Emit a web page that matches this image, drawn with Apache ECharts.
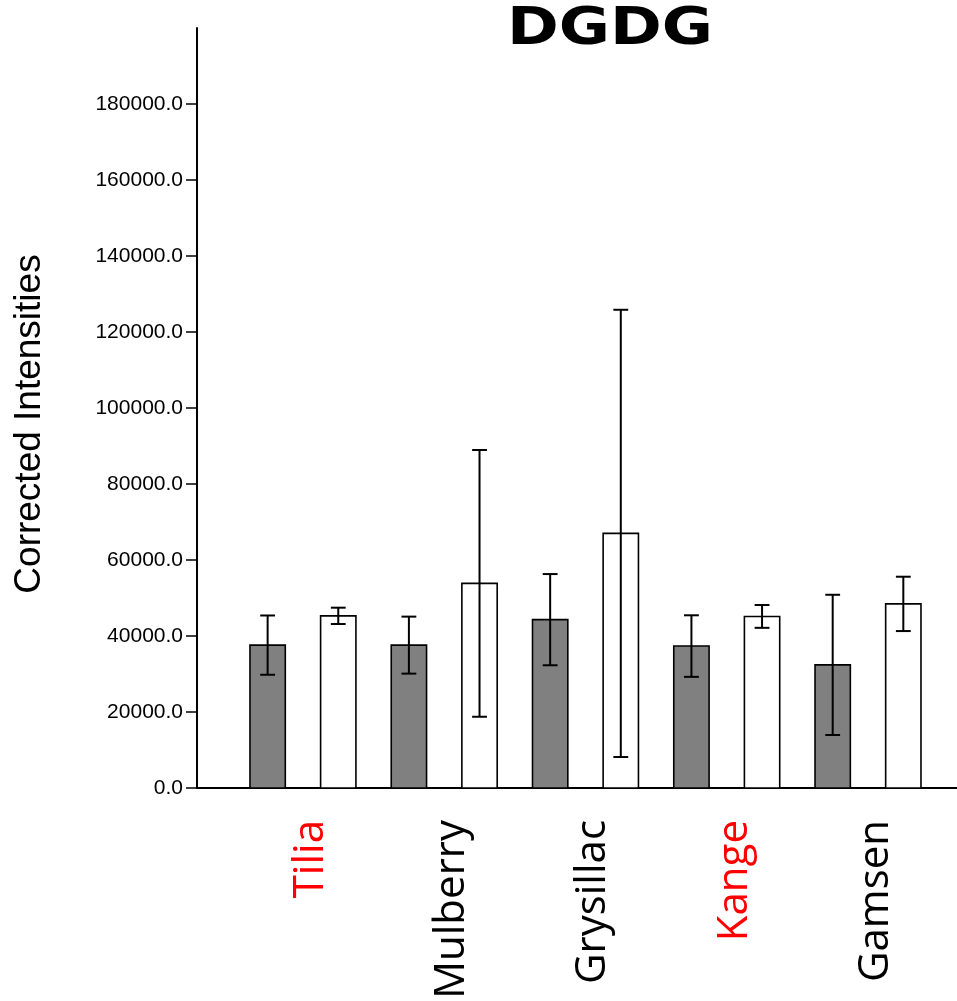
<!DOCTYPE html>
<html><head><meta charset="utf-8">
<script src="https://cdn.jsdelivr.net/npm/echarts@6/dist/echarts.min.js"></script>
<style>html,body{margin:0;padding:0;background:#fff}#c{width:957px;height:1001px}</style>
</head><body><div id="c"></div>
<script>
const categories = ['Tilia', 'Mulberry', 'Grysillac', 'Kange', 'Gamsen'];
const categoryColors = ['#ff0000', '#000000', '#000000', '#ff0000', '#000000'];
const darkMeans = [37600, 37600, 44300, 37350, 32400];
const darkErrors = [7800, 7500, 12000, 8100, 18450];
const lightMeans = [45300, 53850, 67000, 45150, 48450];
const lightErrors = [2150, 35100, 58850, 3000, 7150];
const yTicks = [0, 20000, 40000, 60000, 80000, 100000, 120000, 140000, 160000, 180000];
const yMax = 200000;
const chartTitle = 'DGDG';

const PAIR_OFFSET = 0.25;   // half distance between the two bars of a category (axis units)
const BAR_WIDTH = 0.25;     // bar width (axis units)
const CAP_WIDTH = 0.105;    // error cap width (axis units)

function barRender(offset, fill) {
  return function (params, api) {
    const x = api.value(0) + offset;
    const top = api.coord([x, api.value(1)]);
    const base = api.coord([x, 0]);
    const w = api.size([BAR_WIDTH, 0])[0];
    return {
      type: 'rect',
      shape: { x: top[0] - w / 2, y: top[1], width: w, height: base[1] - top[1] },
      style: { fill: fill, stroke: '#000', lineWidth: 1.6 }
    };
  };
}

function errRender(offset) {
  return function (params, api) {
    const x = api.value(0) + offset;
    const m = api.value(1), e = api.value(2);
    const hi = api.coord([x, m + e]);
    const lo = api.coord([x, m - e]);
    const cw = api.size([CAP_WIDTH, 0])[0];
    const st = { stroke: '#000', lineWidth: 2 };
    return {
      type: 'group',
      children: [
        { type: 'line', shape: { x1: hi[0], y1: hi[1], x2: lo[0], y2: lo[1] }, style: st },
        { type: 'line', shape: { x1: hi[0] - cw / 2, y1: hi[1], x2: hi[0] + cw / 2, y2: hi[1] }, style: st },
        { type: 'line', shape: { x1: lo[0] - cw / 2, y1: lo[1], x2: lo[0] + cw / 2, y2: lo[1] }, style: st }
      ]
    };
  };
}

function labelRender(params, api) {
  const i = api.value(0);
  const p = api.coord([i, 0]);
  return {
    type: 'text',
    x: p[0] + 8,
    y: p[1] + 32,
    rotation: Math.PI / 2,
    style: {
      text: categories[i],
      fill: categoryColors[i],
      font: '42px "Open Sans"',
      align: 'right',
      verticalAlign: 'middle'
    }
  };
}

const chart = echarts.init(document.getElementById('c'), null, { renderer: 'canvas' });
chart.setOption({
  animation: false,
  backgroundColor: '#ffffff',
  graphic: [{
    type: 'text',
    left: 507,
    top: 4,
    scaleX: 1.2,
    style: {
      text: chartTitle,
      font: 'bold 52px "DejaVu Sans"',
      fill: '#000'
    }
  }],
  grid: { left: 197, right: 0, top: 28, bottom: 213, outerBoundsMode: 'none' },
  xAxis: {
    type: 'value',
    min: -0.75,
    max: 4.63,
    axisLine: { show: true, onZero: false, lineStyle: { color: '#000', width: 2 } },
    axisTick: { show: false },
    axisLabel: { show: false },
    splitLine: { show: false }
  },
  yAxis: {
    type: 'value',
    min: 0,
    max: yMax,
    name: 'Corrected Intensities',
    nameLocation: 'middle',
    nameGap: 149,
    nameRotate: 90,
    nameTextStyle: { fontFamily: 'Liberation Sans', fontSize: 37, color: '#000', padding: [0, 32, 0, 0] },
    axisLine: { show: true, onZero: false, lineStyle: { color: '#000', width: 2 } },
    axisTick: { show: true, length: 11, customValues: yTicks, lineStyle: { color: '#000', width: 1.5 } },
    axisLabel: {
      customValues: yTicks,
      margin: 14,
      fontFamily: 'Liberation Sans',
      fontSize: 21,
      color: '#000',
      formatter: v => Number(v).toFixed(1)
    },
    splitLine: { show: false }
  },
  series: [
    { type: 'custom', name: 'dark', renderItem: barRender(-PAIR_OFFSET, '#808080'),
      data: darkMeans.map((v, i) => [i, v]), z: 2 },
    { type: 'custom', name: 'light', renderItem: barRender(PAIR_OFFSET, '#ffffff'),
      data: lightMeans.map((v, i) => [i, v]), z: 2 },
    { type: 'custom', name: 'darkErr', renderItem: errRender(-PAIR_OFFSET),
      data: darkMeans.map((v, i) => [i, v, darkErrors[i]]), z: 3 },
    { type: 'custom', name: 'lightErr', renderItem: errRender(PAIR_OFFSET),
      data: lightMeans.map((v, i) => [i, v, lightErrors[i]]), z: 3 },
    { type: 'custom', name: 'labels', renderItem: labelRender, clip: false,
      data: categories.map((c, i) => [i, 0]), z: 4 }
  ]
});
</script>
</body></html>
